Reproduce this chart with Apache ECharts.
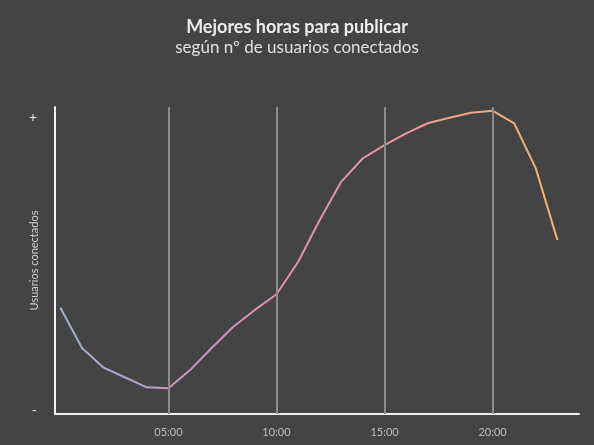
<!DOCTYPE html>
<html>
<head>
<meta charset="utf-8">
<script src="https://cdn.jsdelivr.net/npm/echarts@6/dist/echarts.min.js"></script>
<style>
  html, body { margin: 0; padding: 0; background: #444444; }
  #chart { width: 594px; height: 445px; }
</style>
</head>
<body>
<div id="chart"></div>
<script>
const hours = [0, 1, 2, 3, 4, 5, 6, 7, 8, 9, 10, 11, 12, 13, 14, 15, 16, 17, 18, 19, 20, 21, 22, 23];
const users = [34.6, 21.5, 15.1, 11.9, 8.7, 8.4, 14.3, 21.5, 28.4, 33.9, 39, 49.5, 63.2, 75.7, 83.3, 87.6, 91.4, 94.7, 96.5, 98.1, 98.8, 94.7, 80, 56.7];
const hourTicks = [5, 10, 15, 20];
const hourLabels = ['05:00', '10:00', '15:00', '20:00'];
const yTicks = [1.3, 96.7];
const yLabels = ['-', '+'];

const chart = echarts.init(document.getElementById('chart'));
const font = 'Lato, "Open Sans", sans-serif';

chart.setOption({
    backgroundColor: '#444444',
    animation: false,
    title: {
        text: 'Mejores horas para publicar',
        subtext: 'según nº de usuarios conectados',
        left: 'center',
        top: 13,
        itemGap: 3,
        textStyle: { color: '#ececec', fontSize: 18, fontWeight: 'bold', fontFamily: font },
        subtextStyle: { color: '#e0e0e0', fontSize: 17, fontFamily: font }
    },
    grid: { left: 55, right: 15, top: 107, bottom: 31, containLabel: false, outerBoundsMode: 'none' },
    xAxis: {
        type: 'value',
        min: -0.25,
        max: 24,
        axisLine: { onZero: false, lineStyle: { color: '#f2f2f2', width: 2 } },
        axisTick: { show: false },
        splitLine: { show: false },
        axisLabel: {
            customValues: hourTicks,
            formatter: v => hourLabels[hourTicks.indexOf(v)],
            color: '#bdbdbd',
            fontSize: 11,
            margin: 13,
            fontFamily: font
        }
    },
    yAxis: {
        type: 'value',
        min: 0,
        max: 100,
        name: 'Usuarios conectados',
        nameLocation: 'middle',
        nameGap: 15,
        nameMoveOverlap: false,
        nameTextStyle: { color: '#cfcfcf', fontSize: 11, fontFamily: font },
        axisLine: { show: true, onZero: false, lineStyle: { color: '#f2f2f2', width: 2 } },
        axisTick: { show: false },
        splitLine: { show: false },
        axisLabel: {
            customValues: yTicks,
            formatter: v => yLabels[yTicks.indexOf(v)],
            color: '#e8e8e8',
            fontSize: 14,
            margin: 18,
            fontFamily: font
        }
    },
    series: [{
        type: 'line',
        data: hours.map((h, i) => [h, users[i]]),
        showSymbol: false,
        lineStyle: {
            width: 2,
            color: new echarts.graphic.LinearGradient(0, 0, 1, 0, [
                { offset: 0, color: '#9db2cc' },
                { offset: 0.3, color: '#cf92bd' },
                { offset: 0.55, color: '#e48fae' },
                { offset: 0.8, color: '#f0a284' },
                { offset: 1, color: '#f2b865' }
            ])
        },
        markLine: {
            silent: true,
            symbol: 'none',
            label: { show: false },
            lineStyle: { color: '#8c8c8c', width: 2, type: 'solid' },
            data: hourTicks.map(h => ({ xAxis: h }))
        },
        z: 3
    }]
});
</script>
</body>
</html>
